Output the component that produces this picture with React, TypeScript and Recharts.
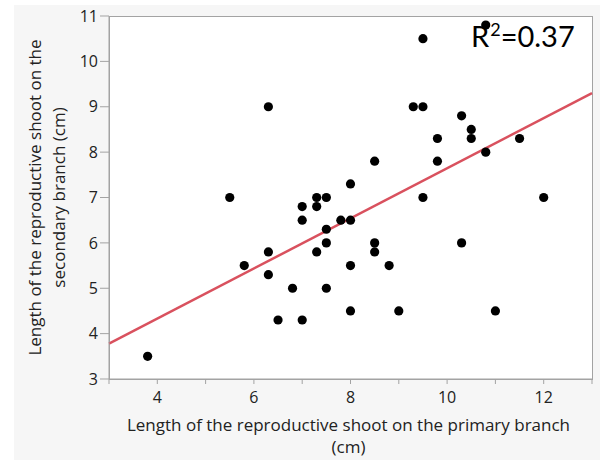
import {
  ScatterChart,
  Scatter,
  XAxis,
  YAxis,
  ReferenceLine,
  Label,
} from "recharts";

// primary branch length (x) and secondary branch length (y)
const primaryLen = [
  3.8, 5.5, 5.8, 6.3, 6.3, 6.3, 6.5, 6.8, 7.0, 7.0, 7.0, 7.3, 7.3, 7.3, 7.5,
  7.5, 7.5, 7.5, 7.8, 8.0, 8.0, 8.0, 8.0, 8.5, 8.5, 8.5, 8.8, 9.0, 9.3, 9.5,
  9.5, 9.5, 9.8, 9.8, 10.3, 10.3, 10.5, 10.5, 10.8, 10.8, 11.0, 11.5, 12.0,
];
const secondaryLen = [
  3.5, 7.0, 5.5, 9.0, 5.8, 5.3, 4.3, 5.0, 4.3, 6.8, 6.5, 7.0, 6.8, 5.8, 7.0,
  6.3, 6.0, 5.0, 6.5, 7.3, 6.5, 5.5, 4.5, 7.8, 6.0, 5.8, 5.5, 4.5, 9.0, 9.0,
  10.5, 7.0, 8.3, 7.8, 8.8, 6.0, 8.5, 8.3, 8.0, 10.8, 4.5, 8.3, 7.0,
];

// fitted line ends, read where it meets the frame
const fitX = [3, 13];
const fitY = [3.78, 9.3];

const xTicks = [3, 4, 5, 6, 7, 8, 9, 10, 11, 12, 13];
const yTicks = [3, 4, 5, 6, 7, 8, 9, 10, 11];
const r2Text = "0.37";

const points = primaryLen.map((x, i) => ({ x, y: secondaryLen[i] }));

const FONT = "'Open Sans', 'Noto Sans', sans-serif";
const AXIS = "#a3a3a3";

const Dot = (props: any) => (
  <circle cx={props.cx} cy={props.cy} r={4.6} fill="#000" />
);

const YTitle = (props: any) => {
  const vb = props.viewBox;
  const cy = vb.y + vb.height / 2;
  return (
    <g fontFamily={FONT} fontSize={17} fill="#222">
      <text
        x={34}
        y={cy}
        textAnchor="middle"
        dominantBaseline="central"
        transform={`rotate(-90 34 ${cy})`}
      >
        Length of the reproductive shoot on the
      </text>
      <text
        x={58}
        y={cy}
        textAnchor="middle"
        dominantBaseline="central"
        transform={`rotate(-90 58 ${cy})`}
      >
        secondary branch (cm)
      </text>
    </g>
  );
};

const XTitle = (props: any) => {
  const vb = props.viewBox;
  const cx = vb.x + vb.width / 2 - 2;
  return (
    <g fontFamily={FONT} fontSize={17} fill="#222">
      <text x={cx} y={424} textAnchor="middle" dominantBaseline="central">
        Length of the reproductive shoot on the primary branch
      </text>
      <text x={cx} y={446} textAnchor="middle" dominantBaseline="central">
        (cm)
      </text>
    </g>
  );
};

export default function App() {
  return (
    <div
      style={{
        position: "absolute",
        left: 0,
        top: 0,
        width: 611,
        height: 460,
        background: "#fff",
        overflow: "hidden",
      }}
    >
      <div
        style={{
          position: "absolute",
          left: 14,
          top: 5,
          width: 586,
          height: 455,
          background: "#f6f6f6",
        }}
      />
      <div
        style={{
          position: "absolute",
          left: 109,
          top: 16,
          width: 482,
          height: 362,
          background: "#fff",
          border: `1px solid ${AXIS}`,
        }}
      />
      <div
        style={{
          position: "absolute",
          left: 471,
          top: 18,
          fontFamily: "Lato, 'Open Sans', sans-serif",
          fontSize: 29,
          color: "#000",
          whiteSpace: "nowrap",
        }}
      >
        R<sup style={{ fontSize: 18, verticalAlign: "top", position: "relative", top: 0, marginLeft: 1 }}>2</sup>={r2Text}
      </div>
      <div style={{ position: "absolute", left: 0, top: 0 }}>
        <ScatterChart
          width={611}
          height={460}
          margin={{ top: 16, right: 19, bottom: 0, left: 0 }}
        >
          <XAxis
            type="number"
            dataKey="x"
            domain={[3, 13]}
            ticks={xTicks}
            allowDataOverflow
            tickFormatter={(v: number) => (v % 2 === 0 ? String(v) : "")}
            height={81}
            tickSize={5}
            tickMargin={8}
            stroke={AXIS}
            tick={{ fill: "#222", fontSize: 16, fontFamily: FONT }}
          >
            <Label content={<XTitle />} />
          </XAxis>
          <YAxis
            type="number"
            dataKey="y"
            domain={[3, 11]}
            ticks={yTicks}
            allowDataOverflow
            width={109}
            tickSize={9}
            tickMargin={2}
            stroke={AXIS}
            tick={{ fill: "#222", fontSize: 16, fontFamily: FONT }}
          >
            <Label content={<YTitle />} />
          </YAxis>
          <ReferenceLine
            segment={[
              { x: fitX[0], y: fitY[0] },
              { x: fitX[1], y: fitY[1] },
            ]}
            stroke="#d9515e"
            strokeWidth={2.5}
            ifOverflow="visible"
          />
          <Scatter data={points} shape={<Dot />} isAnimationActive={false} />
        </ScatterChart>
      </div>
    </div>
  );
}
